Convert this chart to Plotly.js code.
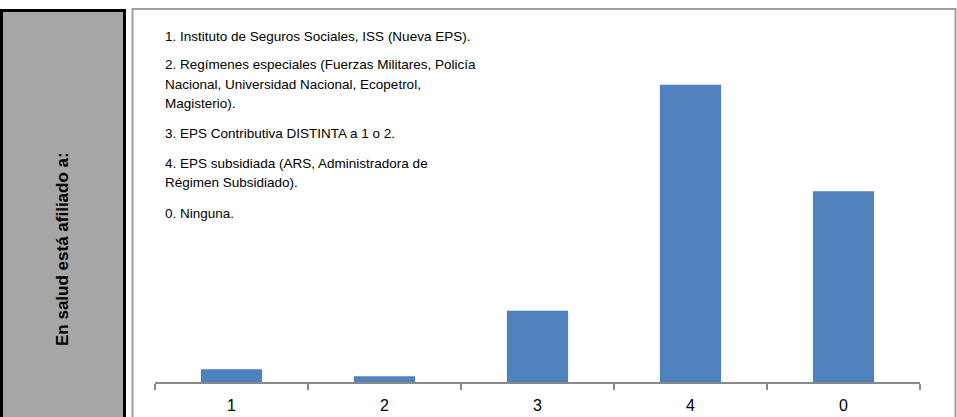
<!DOCTYPE html>
<html>
<head>
<meta charset="utf-8">
<script src="https://cdn.plot.ly/plotly-3.0.1.min.js"></script>
<style>html,body{margin:0;padding:0;background:#fff;}#chart{width:957px;height:417px;}</style>
</head>
<body>
<div id="chart"></div>
<script>
// Data
var categories = ['1', '2', '3', '4', '0'];
var values = [2.2, 1.0, 12.3, 51.4, 33.0];
var sideTitle = 'En salud está afiliado a:';
var noteLines = [
  '1. Instituto de Seguros Sociales, ISS (Nueva EPS).',
  '2. Regímenes especiales (Fuerzas Militares, Policía',
  'Nacional, Universidad Nacional, Ecopetrol,',
  'Magisterio).',
  '3. EPS Contributiva DISTINTA a 1 o 2.',
  '4. EPS subsidiada (ARS, Administradora de',
  'Régimen Subsidiado).',
  '0. Ninguna.'
];
var noteLineY = [36, 65, 84, 103, 133, 163, 182, 213];

// Layout geometry (pixels)
var W = 957, H = 417;
var L = 155, R = 920, T = 35, B = 382;
function px(x) { return (x - L) / (R - L); }
function py(y) { return (B - y) / (B - T); }

var sans = '"Liberation Sans", Arial, sans-serif';

var annotations = noteLines.map(function (t, i) {
  return {
    text: t, xref: 'paper', yref: 'paper', x: px(163), y: py(noteLineY[i]),
    xanchor: 'left', yanchor: 'middle', showarrow: false,
    font: {family: sans, size: 13.5, color: '#000'}
  };
});
annotations.push({
  text: '<b>' + sideTitle + '</b>', xref: 'paper', yref: 'paper',
  x: px(63), y: py(249), textangle: -90, showarrow: false,
  xanchor: 'center', yanchor: 'middle',
  font: {family: sans, size: 17, color: '#000'}
});

var shapes = [
  {type: 'rect', xref: 'paper', yref: 'paper', layer: 'below',
   x0: px(1.5), x1: px(124.5), y0: py(430), y1: py(10.5),
   fillcolor: '#A6A6A6', line: {color: '#000', width: 3}},
  {type: 'rect', xref: 'paper', yref: 'paper', layer: 'below',
   x0: px(132.5), x1: px(955.5), y0: py(430), y1: py(9),
   fillcolor: '#FFFFFF', line: {color: '#A0A0A0', width: 2}}
];

var trace = {
  type: 'bar', x: categories, y: values,
  marker: {color: '#4F81BD', line: {width: 0}},
  hoverinfo: 'skip'
};

var layout = {
  width: W, height: H,
  margin: {l: L, r: W - R, t: T, b: H - B, pad: 0},
  paper_bgcolor: '#FFFFFF', plot_bgcolor: 'rgba(0,0,0,0)',
  showlegend: false, bargap: 0.6,
  xaxis: {
    type: 'category', categoryorder: 'array', categoryarray: categories,
    showline: true, linecolor: '#898989', linewidth: 1.5,
    ticks: 'outside', ticklen: 6, tickcolor: '#898989', tickwidth: 1.5,
    tickson: 'boundaries', showgrid: false, zeroline: false,
    tickfont: {family: sans, size: 16, color: '#000'},
    ticklabelstandoff: 8
  },
  yaxis: {
    range: [0, 60], visible: false, showgrid: false, zeroline: false
  },
  annotations: annotations,
  shapes: shapes
};

Plotly.newPlot('chart', [trace], layout, {staticPlot: true, displayModeBar: false});
</script>
</body>
</html>
